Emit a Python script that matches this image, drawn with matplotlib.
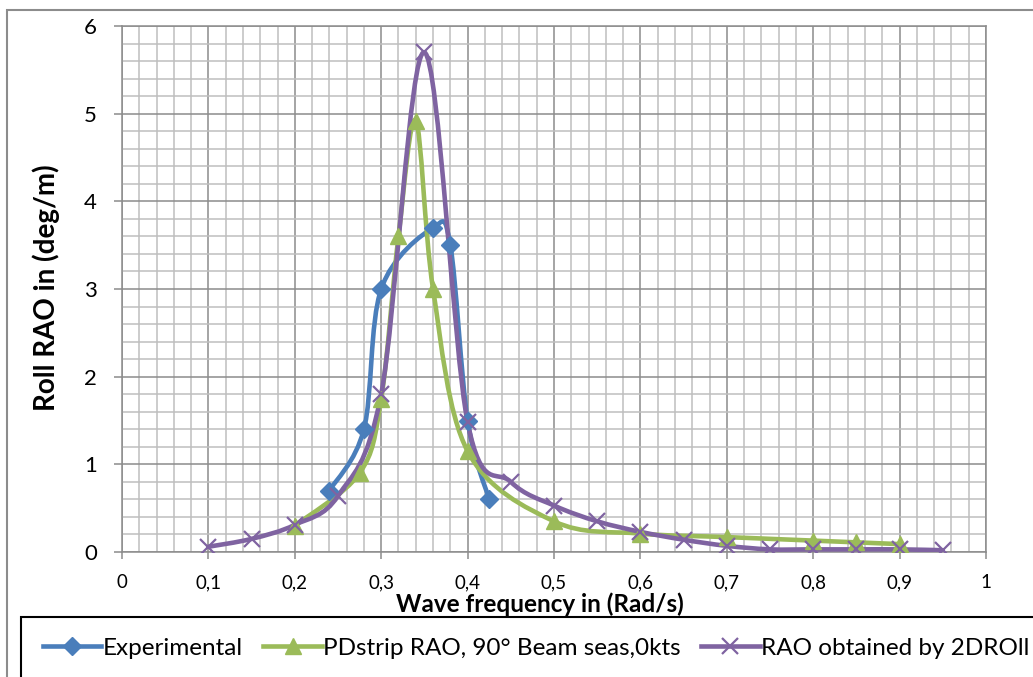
import numpy as np
import matplotlib
matplotlib.use("Agg")
import matplotlib.pyplot as plt
from matplotlib.path import Path
from matplotlib.patches import PathPatch, Rectangle
from matplotlib.ticker import MultipleLocator, FuncFormatter
from matplotlib.lines import Line2D

plt.rcParams['font.family'] = ['Lato', 'DejaVu Sans']

# --- data ---
exp_x = [0.24, 0.28, 0.30, 0.36, 0.38, 0.40, 0.425]
exp_y = [0.70, 1.40, 3.00, 3.70, 3.50, 1.50, 0.60]

pd_x = [0.20, 0.275, 0.30, 0.32, 0.34, 0.36, 0.40, 0.50, 0.60, 0.70, 0.80, 0.85, 0.90]
pd_y = [0.30, 0.90, 1.75, 3.60, 4.92, 3.00, 1.15, 0.35, 0.21, 0.17, 0.13, 0.11, 0.09]

dr_x = [0.10, 0.15, 0.20, 0.25, 0.30, 0.35, 0.40, 0.45, 0.50, 0.55, 0.60, 0.65, 0.70, 0.75, 0.80, 0.85, 0.90, 0.95]
dr_y = [0.06, 0.15, 0.31, 0.64, 1.80, 5.70, 1.48, 0.80, 0.53, 0.35, 0.23, 0.14, 0.07, 0.03, 0.03, 0.03, 0.03, 0.02]

labels = ["Experimental", "PDstrip RAO, 90° Beam seas,0kts", "RAO obtained by 2DROll"]
colors = ["#4A7EBB", "#9BBB59", "#7F63A1"]


def smooth_path(xs, ys):
    # Excel-like smoothed line: cubic bezier through the points
    p = np.column_stack([xs, ys])
    n = len(p)
    verts = [p[0]]
    codes = [Path.MOVETO]
    for i in range(n - 1):
        p0 = p[i - 1] if i > 0 else p[i]
        p3 = p[i + 2] if i + 2 < n else p[i + 1]
        c1 = p[i] + (p[i + 1] - p0) / 6.0
        c2 = p[i + 1] - (p3 - p[i]) / 6.0
        verts += [c1, c2, p[i + 1]]
        codes += [Path.CURVE4] * 3
    return Path(verts, codes)


fig = plt.figure(figsize=(10.33, 6.77), dpi=100)
ax = fig.add_axes([122 / 1033, 125 / 677, 864 / 1033, 526 / 677])

ax.set_xlim(0, 1)
ax.set_ylim(0, 6)
ax.xaxis.set_major_locator(MultipleLocator(0.1))
ax.xaxis.set_minor_locator(MultipleLocator(0.02))
ax.yaxis.set_major_locator(MultipleLocator(1))
ax.yaxis.set_minor_locator(MultipleLocator(0.2))
ax.grid(which='minor', color='#BEBEBE', linewidth=1.1)
ax.grid(which='major', color='#8C8C8C', linewidth=1.1)
ax.set_axisbelow(True)

comma = FuncFormatter(lambda v, pos: ("%g" % round(v, 2)).replace(".", ","))
ax.xaxis.set_major_formatter(comma)
ax.tick_params(axis='x', which='major', length=5, width=1.1, color='#8C8C8C', pad=11, labelsize=13.5)
ax.tick_params(axis='y', which='major', length=6, width=1.1, color='#8C8C8C', pad=12, labelsize=16)
ax.tick_params(which='minor', length=0)
for s in ax.spines.values():
    s.set_color('#8C8C8C')
    s.set_linewidth(1.1)

markers = [dict(marker='D', ms=9), dict(marker='^', ms=11), dict(marker='x', ms=12, mew=1.6)]
series = [(exp_x, exp_y), (pd_x, pd_y), (dr_x, dr_y)]
handles = []
for (xs, ys), c, m, lab in zip(series, colors, markers, labels):
    ax.add_patch(PathPatch(smooth_path(xs, ys), facecolor='none', edgecolor=c,
                           linewidth=3.3, capstyle='round', joinstyle='round', zorder=3))
    ax.plot(xs, ys, linestyle='none', color=c, zorder=4, **m)
    handles.append(Line2D([], [], color=c, linewidth=3.3, label=lab, **m))

fig.text(540 / 1033, 1 - 604 / 677, "Wave frequency in (Rad/s)", ha='center', va='center',
         fontsize=17.5, fontweight='bold')
fig.text(46 / 1033, 1 - 288 / 677, "Roll RAO in (deg/m)", ha='center', va='center',
         rotation=90, fontsize=20, fontweight='bold')

# chart outer border and legend box
fig.patches.append(Rectangle((7 / 1033, -0.1), 1.2, 1.1 - 10 / 677, transform=fig.transFigure,
                             facecolor='none', edgecolor='#8C8C8C', linewidth=1.5))
fig.patches.append(Rectangle((21 / 1033, -0.1), 1.2, 0.1 + 1 - 617 / 677, transform=fig.transFigure,
                             facecolor='white', edgecolor='black', linewidth=1.5))
fig.legend(handles=handles, loc='center left', bbox_to_anchor=(43 / 1033, 1 - 648 / 677),
           ncol=3, frameon=False, fontsize=17.5, handlelength=2.4, handletextpad=0.05,
           columnspacing=0.85, numpoints=1, borderpad=0, borderaxespad=0)

fig.savefig("out.png", dpi=100)
